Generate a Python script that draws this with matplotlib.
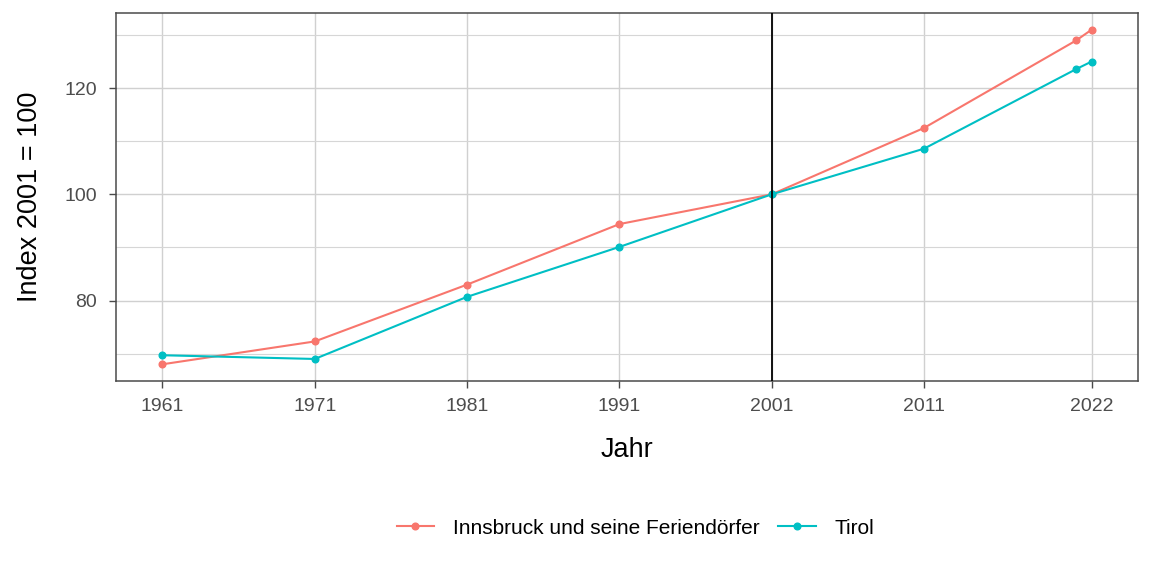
import matplotlib
matplotlib.use("Agg")
import matplotlib.pyplot as plt
from matplotlib.ticker import MultipleLocator

plt.rcParams['font.family'] = ['Liberation Sans', 'DejaVu Sans']

years = [1961, 1971, 1981, 1991, 2001, 2011, 2021, 2022]
innsbruck = [68.0, 72.3, 83.0, 94.4, 100.0, 112.5, 129.0, 131.0]
tirol = [69.7, 69.0, 80.7, 90.1, 100.0, 108.6, 123.6, 125.0]
tick_years = [1961, 1971, 1981, 1991, 2001, 2011, 2022]
labels = ["Innsbruck und seine Feriendörfer", "Tirol"]
colours = ["#F8766D", "#00BFC4"]

fig = plt.figure(figsize=(11.52, 5.76), dpi=100)
ax = fig.add_axes([116 / 1152, 1 - 381 / 576, (1138 - 116) / 1152, (381 - 13) / 576])

for vals, lab, col in zip([innsbruck, tirol], labels, colours):
    ax.plot(years, vals, color=col, linewidth=1.5, marker='o', markersize=4.8, label=lab, zorder=3)

ax.axvline(2001, color='black', linewidth=1.3, zorder=4)

span = years[-1] - years[0]
ax.set_xlim(years[0] - 0.05 * span, years[-1] + 0.05 * span)
lo = min(innsbruck + tirol)
hi = max(innsbruck + tirol)
ax.set_ylim(lo - 0.05 * (hi - lo), hi + 0.05 * (hi - lo))

ax.set_xticks(tick_years)
ax.yaxis.set_major_locator(MultipleLocator(20))
ax.yaxis.set_minor_locator(MultipleLocator(10))
ax.grid(which='major', color='#d0d0d0', linewidth=1.0, zorder=0)
ax.grid(which='minor', axis='y', color='#d6d6d6', linewidth=0.8, zorder=0)
ax.set_axisbelow(True)

for s in ax.spines.values():
    s.set_color('#4a4a4a')
    s.set_linewidth(1.1)

ax.tick_params(axis='both', which='major', labelsize=14, labelcolor='#4d4d4d',
               color='#4a4a4a', length=5, width=1)
ax.tick_params(axis='x', which='major', pad=7)
ax.tick_params(axis='y', which='major', pad=8.5)
ax.tick_params(axis='y', which='minor', length=0)

ax.set_xlabel("Jahr", fontsize=19.5, labelpad=16)
ax.set_ylabel("Index 2001 = 100", fontsize=19.5)
ax.yaxis.set_label_coords(-0.071, 0.5)

fig.legend(loc='center', bbox_to_anchor=(635.5 / 1152, 1 - 528 / 576), ncol=2, frameon=False,
           fontsize=15, handlelength=1.8, columnspacing=0.9, handletextpad=0.9)

fig.savefig("out.png", dpi=100)
